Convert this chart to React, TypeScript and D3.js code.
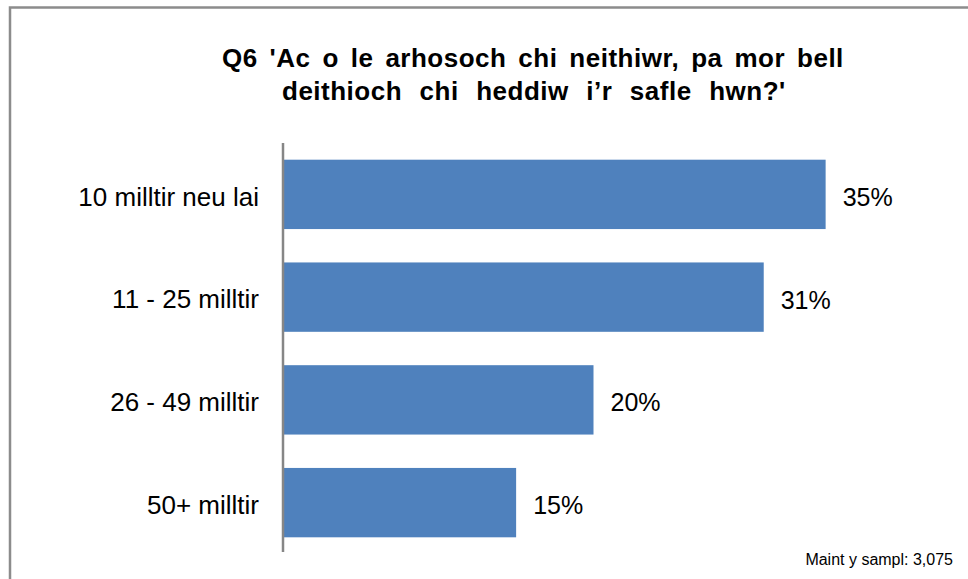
import React from "react";
import * as d3 from "d3";

const categories = ["10 milltir neu lai", "11 - 25 milltir", "26 - 49 milltir", "50+ milltir"];
const values = [35, 31, 20, 15];
const titleLines = ["Q6 'Ac o le arhosoch chi neithiwr, pa mor bell", "deithioch chi heddiw i\u2019r safle hwn?'"];
const footnote = "Maint y sampl: 3,075";

const W = 968;
const H = 579;
const FONT = "Arial, 'Liberation Sans', Helvetica, sans-serif";

const titleLayout = [
  { x: 222, extra: 4.2 },
  { x: 282, extra: 9.8 },
];

export default function App() {
  const x = d3.scaleLinear().domain([0, 40]).range([284, 903]);
  const y = d3.scaleBand<string>().domain(categories).range([143, 554]).paddingInner(0.325).paddingOuter(0.1625);
  const bw = y.bandwidth();
  return (
    <svg width={W} height={H} style={{ position: "absolute", left: 0, top: 0, background: "#fff" }} fontFamily={FONT}>
      <rect x={0} y={0} width={W} height={H} fill="#fff" />
      <rect x={10} y={7.5} width={1200} height={1200} fill="none" stroke="#8c8c8c" strokeWidth={2.5} />
      {titleLines.map((t, i) => (
        <text key={i} x={titleLayout[i].x} y={67 + i * 33} textAnchor="start" fontWeight="bold" fontSize={26} letterSpacing={0.5} fill="#000">
          {t.split(" ").map((w, j) => (
            <tspan key={j} dx={j === 0 ? 0 : titleLayout[i].extra}>
              {(j === 0 ? "" : " ") + w}
            </tspan>
          ))}
        </text>
      ))}
      {categories.map((c, i) => {
        const yy = y(c)!;
        const cy = yy + bw / 2;
        return (
          <g key={c}>
            <rect x={x(0)} y={yy} width={x(values[i]) - x(0)} height={bw} fill="#4F81BD" />
            <text x={259} y={cy} dy="0.43em" textAnchor="end" fontSize={26} fill="#000">
              {c}
            </text>
            <text x={x(values[i]) + 17} y={cy} dy="0.46em" textAnchor="start" fontSize={25} fill="#000">
              {values[i] + "%"}
            </text>
          </g>
        );
      })}
      <line x1={283} x2={283} y1={143} y2={552} stroke="#868686" strokeWidth={2.5} />
      <text x={953} y={565} textAnchor="end" fontSize={16} fill="#000">
        {footnote}
      </text>
    </svg>
  );
}
